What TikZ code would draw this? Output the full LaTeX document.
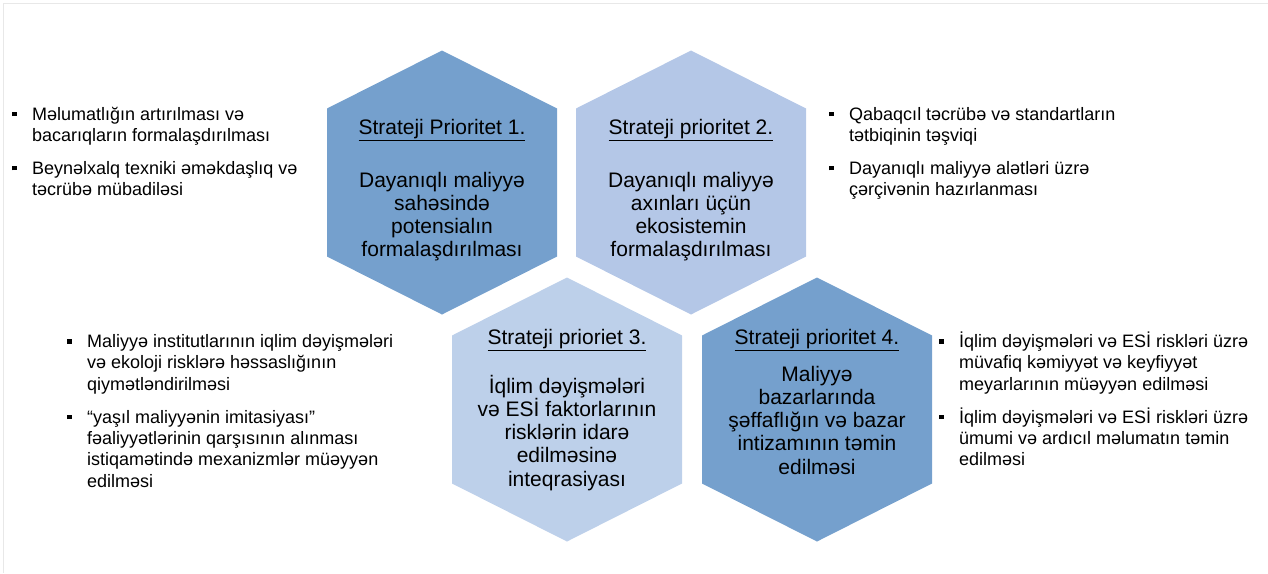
\documentclass[tikz,border=0pt]{standalone}
\usepackage{fontspec}
\setmainfont{Liberation Sans}
\definecolor{hexdark}{RGB}{117,160,205}
\definecolor{hexlight}{RGB}{180,199,231}
\definecolor{hexpale}{RGB}{189,208,234}
\definecolor{framegray}{RGB}{232,232,232}
\newcommand{\sqbullet}{\makebox[20pt][l]{\rule[4pt]{4.5pt}{4.5pt}}}
\newcommand{\sideitem}[1]{\par\hangindent=20pt\hangafter=1\noindent\sqbullet#1\par}
\newcommand{\itemgap}{\vspace{11.7pt}}
\tikzset{
  hexa/.pic={\path[pic actions] (0,-132)--(115,-74)--(115,74)--(0,132)--(-115,74)--(-115,-74)--cycle;},
  hextitle/.style={anchor=base, inner sep=0pt, font=\fontsize{21}{23.3}\selectfont},
  hexbody/.style={anchor=base, inner sep=0pt, font=\fontsize{21}{23.3}\selectfont},
  sidetext/.style={anchor=base west, inner sep=0pt, font=\fontsize{18}{21.3}\selectfont},
  frameline/.style={draw=framegray, line width=1pt},
}
\newcommand{\hexlines}[1]{\parbox[t]{226pt}{\centering #1}}
\newcommand{\sidebox}[1]{\parbox[t]{400pt}{#1}}
\begin{document}
\begin{tikzpicture}[x=1pt,y=-1pt]
\useasboundingbox (0,0) rectangle (1268,573);
\coordinate (fa) at (3.5,573);
\coordinate (fb) at (3.5,3.5);
\coordinate (fc) at (1268,3.5);
\draw[frameline] (fa) -- (fb) -- (fc);

% hexagons
\coordinate (h1) at (442,182.5);
\coordinate (h2) at (691,182.5);
\coordinate (h3) at (567,409.5);
\coordinate (h4) at (817,409.5);
\pic[fill=hexdark] at (h1) {hexa};
\pic[fill=hexlight] at (h2) {hexa};
\pic[fill=hexpale] at (h3) {hexa};
\pic[fill=hexdark] at (h4) {hexa};

% hexagon texts
\node[hextitle] (t1) at (442,134) {\underline{Strateji Prioritet 1.}};
\node[hexbody] (b1) at (442,187) {\hexlines{Dayanıqlı maliyyə\\sahəsində\\potensialın\\formalaşdırılması}};
\node[hextitle] (t2) at (691,134) {\underline{Strateji prioritet 2.}};
\node[hexbody] (b2) at (691,187) {\hexlines{Dayanıqlı maliyyə\\axınları üçün\\ekosistemin\\formalaşdırılması}};
\node[hextitle] (t3) at (567,344.5) {\underline{Strateji prioriet 3.}};
\node[hexbody] (b3) at (567,393) {\hexlines{İqlim dəyişmələri\\və ESİ faktorlarının\\risklərin idarə\\edilməsinə\\inteqrasiyası}};
\node[hextitle] (t4) at (817,344.5) {\underline{Strateji prioritet 4.}};
\node[hexbody] (b4) at (817,381) {\hexlines{Maliyyə\\bazarlarında\\şəffaflığın və bazar\\intizamının təmin\\edilməsi}};

% side texts
\node[sidetext] (s1) at (12,120) {\sidebox{%
\sideitem{Məlumatlığın artırılması və\newline bacarıqların formalaşdırılması}\itemgap
\sideitem{Beynəlxalq texniki əməkdaşlıq və\newline təcrübə mübadiləsi}}};
\node[sidetext] (s2) at (829,120) {\sidebox{%
\sideitem{Qabaqcıl təcrübə və standartların\newline tətbiqinin təşviqi}\itemgap
\sideitem{Dayanıqlı maliyyə alətləri üzrə\newline çərçivənin hazırlanması}}};
\node[sidetext] (s3) at (67,347.5) {\sidebox{%
\sideitem{Maliyyə institutlarının iqlim dəyişmələri\newline və ekoloji risklərə həssaslığının\newline qiymətləndirilməsi}\itemgap
\sideitem{“yaşıl maliyyənin imitasiyası”\newline fəaliyyətlərinin qarşısının alınması\newline istiqamətində mexanizmlər müəyyən\newline edilməsi}}};
\node[sidetext] (s4) at (939,347.5) {\sidebox{%
\sideitem{İqlim dəyişmələri və ESİ riskləri üzrə\newline müvafiq kəmiyyət və keyfiyyət\newline meyarlarının müəyyən edilməsi}\itemgap
\sideitem{İqlim dəyişmələri və ESİ riskləri üzrə\newline ümumi və ardıcıl məlumatın təmin\newline edilməsi}}};
\end{tikzpicture}
\end{document}
